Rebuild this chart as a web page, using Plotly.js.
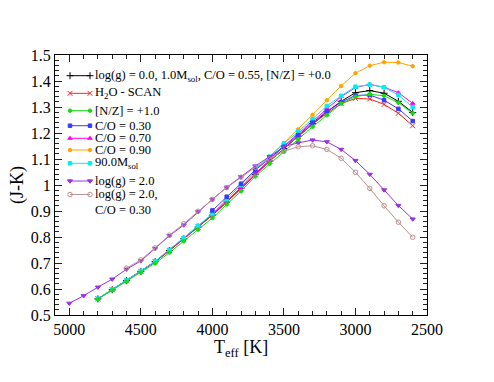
<!DOCTYPE html>
<html><head><meta charset="utf-8">
<script src="https://cdn.plot.ly/plotly-3.0.1.min.js"></script>
<style>body{margin:0;background:#fff;}</style>
</head><body><div id="chart" style="width:494px;height:382px;"></div>
<script>
// ---- data ----
const tempMain = [4800,4700,4600,4500,4400,4300,4200,4100,4000,3900,3800,3700,3600,3500,3400,3300,3200,3100,3000,2900,2800,2700,2600];
const tempBlue = [4000,3900,3800,3700,3600,3500,3400,3300,3200,3100,3000,2900,2800,2700,2600];
const tempLogg2 = [5000,4900,4800,4700,4600,4500,4400,4300,4200,4100,4000,3900,3800,3700,3600,3500,3400,3300,3200,3100,3000,2900,2800,2700,2600];
const tempLogg2CO = [4600,4500,4400,4300,4200,4100,4000,3900,3800,3700,3600,3500,3400,3300,3200,3100,3000,2900,2800,2700,2600];

const jkRef     = [0.562,0.597,0.632,0.668,0.705,0.748,0.793,0.838,0.884,0.934,0.987,1.040,1.092,1.140,1.188,1.236,1.281,1.322,1.355,1.363,1.353,1.322,1.279];
const jkH2O     = [0.562,0.597,0.632,0.668,0.705,0.748,0.793,0.838,0.884,0.934,0.987,1.040,1.092,1.140,1.187,1.234,1.276,1.313,1.333,1.331,1.310,1.276,1.228];
const jkNZ      = [0.561,0.595,0.628,0.663,0.699,0.740,0.784,0.828,0.873,0.925,0.976,1.033,1.082,1.128,1.176,1.224,1.268,1.313,1.340,1.349,1.343,1.317,1.276];
const jkCO030   = [0.902,0.955,1.005,1.057,1.103,1.147,1.192,1.240,1.283,1.318,1.345,1.346,1.326,1.293,1.246];
const jkCO070   = [0.562,0.597,0.633,0.669,0.706,0.750,0.796,0.842,0.887,0.938,0.990,1.045,1.097,1.150,1.198,1.247,1.295,1.340,1.375,1.387,1.376,1.355,1.314];
const jkCO090   = [0.562,0.597,0.633,0.669,0.706,0.750,0.796,0.842,0.887,0.938,0.990,1.055,1.108,1.160,1.214,1.270,1.326,1.381,1.430,1.459,1.472,1.471,1.457];
const jkM90     = [0.563,0.598,0.634,0.670,0.707,0.751,0.797,0.843,0.890,0.945,1.000,1.060,1.109,1.160,1.205,1.253,1.304,1.343,1.378,1.386,1.376,1.346,1.299];
const jkLogg2   = [0.545,0.574,0.607,0.638,0.676,0.708,0.756,0.805,0.846,0.897,0.945,0.991,1.032,1.073,1.109,1.148,1.162,1.173,1.166,1.137,1.094,1.041,0.981,0.921,0.869];
const jkLogg2CO = [0.680,0.712,0.758,0.807,0.851,0.899,0.945,0.990,1.030,1.068,1.100,1.130,1.147,1.151,1.137,1.103,1.049,0.987,0.920,0.857,0.799];

const seriesNames = [
  'log(g) = 0.0, 1.0M<sub>sol</sub>, C/O = 0.55, [N/Z] = +0.0',
  'H<sub>2</sub>O - SCAN',
  '[N/Z] = +1.0',
  'C/O = 0.30',
  'C/O = 0.70',
  'C/O = 0.90',
  '90.0M<sub>sol</sub>',
  'log(g) = 2.0',
  'log(g) = 2.0,<br>C/O = 0.30'
];
const xTickVals = [5000,4500,4000,3500,3000,2500];
const xTitle = 'T<sub>eff</sub> [K]';
const yTitle = '(J-K)';

// ---- styles ----
const FONT = 'Liberation Serif';
const styles = [
  {c:'#000000', s:'cross-thin-open', z:5},
  {c:'#ff2020', s:'x-thin-open', z:5},
  {c:'#11dd11', s:'circle', z:3.5},
  {c:'#3a3aff', s:'square', z:3.5},
  {c:'#ff00ff', s:'triangle-up', z:4},
  {c:'#ffa500', s:'circle', z:3.5},
  {c:'#00f0f0', s:'square', z:3.5},
  {c:'#9b30e8', s:'triangle-down', z:4.5},
  {c:'#bc8f8f', s:'circle-open', z:4.5}
];
const xs = [tempMain, tempMain, tempMain, tempBlue, tempMain, tempMain, tempMain, tempLogg2, tempLogg2CO];
const ys = [jkRef, jkH2O, jkNZ, jkCO030, jkCO070, jkCO090, jkM90, jkLogg2, jkLogg2CO];
const drawOrder = [5,0,1,4,6,3,2,7,8];

const traces = [];
drawOrder.forEach(i => {
  const st = styles[i];
  traces.push({
    type:'scatter', mode:'lines+markers', x: xs[i], y: ys[i], name: seriesNames[i],
    line:{color:st.c, width:1},
    marker:{color:st.c, symbol:st.s, size:st.z, line:{color:st.c, width:1}},
    showlegend:false, hoverinfo:'skip'
  });
});

// ---- manual legend (pixel layout -> overlay unit axes) ----
const L = 55, T = 55, W = 372, H = 260;
const rowPx = [75.7, 93.3, 110.7, 125.7, 138.3, 150.0, 163.3, 181.0, 194.5];
const textPx = [75.7, 93.3, 110.7, 125.7, 138.3, 150.0, 163.3, 181.0, 202.0];
const annotations = [];
styles.forEach((st, i) => {
  const yy = (T + H - rowPx[i]) / H;
  traces.push({
    type:'scatter', mode:'lines+markers', xaxis:'x2', yaxis:'y2',
    x:[(70 - L)/W, (90 - L)/W], y:[yy, yy],
    line:{color:st.c, width:1},
    marker:{color:st.c, symbol:st.s, size:st.z, line:{color:st.c, width:1}},
    showlegend:false, hoverinfo:'skip'
  });
  annotations.push({
    xref:'paper', yref:'paper', x:(94 - L)/W, y:(T + H - textPx[i]) / H,
    xanchor:'left', yanchor:'middle', align:'left', showarrow:false,
    borderpad:0,
    text: seriesNames[i], font:{family:FONT, size:12.5, color:'#000'}
  });
});
// x-axis title placed as annotation to match reference position
annotations.push({
  xref:'paper', yref:'paper', x:0.5, y:(T + H - 348) / H,
  xanchor:'center', yanchor:'middle', showarrow:false, borderpad:0,
  text: xTitle, font:{family:FONT, size:18, color:'#000'}
});

const axisCommon = {
  showline:true, linecolor:'#000', linewidth:1, mirror:'allticks',
  ticks:'inside', ticklen:7, tickwidth:1, tickcolor:'#222',
  showgrid:false, zeroline:false
};

const layout = {
  width:494, height:382,
  margin:{l:L, r:494 - L - W, t:T, b:382 - T - H},
  paper_bgcolor:'#fff', plot_bgcolor:'#fff',
  font:{family:FONT, color:'#000'},
  showlegend:false,
  xaxis: Object.assign({}, axisCommon, {
    range:[5100, 2500], autorange:false,
    tickmode:'array', tickvals:xTickVals,
    tickfont:{family:FONT, size:16, color:'#000'},
    minor:{dtick:100, tick0:0, ticks:'inside', ticklen:4, tickcolor:'#222'}
  }),
  yaxis: Object.assign({}, axisCommon, {
    range:[0.5, 1.5], autorange:false, dtick:0.1, tick0:0.5,
    tickfont:{family:FONT, size:16, color:'#000'},
    minor:{dtick:0.02, tick0:0.5, ticks:'inside', ticklen:4, tickcolor:'#222'},
    title:{text:yTitle, font:{family:FONT, size:18, color:'#000'}, standoff:2}
  }),
  xaxis2:{overlaying:'x', range:[0,1], visible:false, fixedrange:true},
  yaxis2:{overlaying:'y', range:[0,1], visible:false, fixedrange:true},
  annotations: annotations
};

Plotly.newPlot('chart', traces, layout, {staticPlot:true, displayModeBar:false});
</script>
</body></html>
